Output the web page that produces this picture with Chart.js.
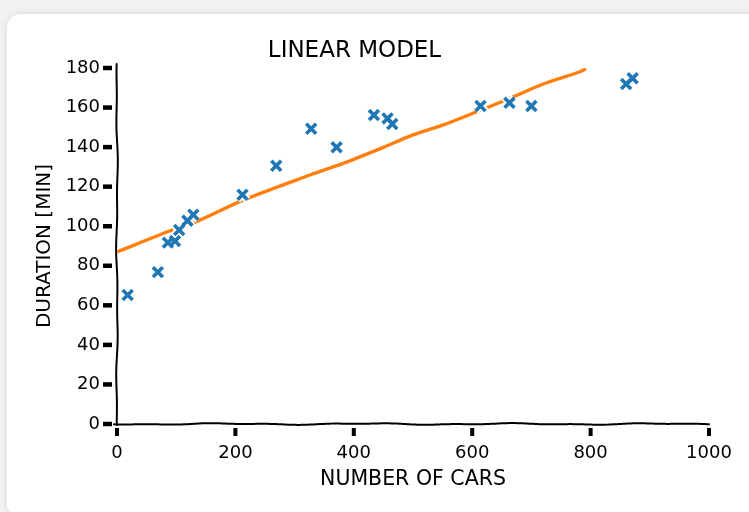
<!DOCTYPE html>
<html>
<head>
<meta charset="utf-8">
<script src="https://cdn.jsdelivr.net/npm/chart.js@4/dist/chart.umd.min.js"></script>
<style>
  html, body { margin: 0; padding: 0; }
  body { width: 749px; height: 512px; overflow: hidden; background: #f1f1f1; position: relative; }
  #card { position: absolute; left: 7px; top: 14px; width: 780px; height: 504px; background: #fff;
          border-radius: 14px; box-shadow: 0 0 7px rgba(0,0,0,0.10); }
  #c { position: absolute; left: 0; top: 0; }
</style>
</head>
<body>
<div id="card"></div>
<canvas id="c" width="749" height="512"></canvas>
<script>
// ---- data ----
const carsX = [18, 69, 86, 98, 105, 119, 129, 212, 269, 328, 371, 434, 457, 465, 614, 663, 700, 860, 871];
const durationY = [65.2, 76.8, 91.7, 92.5, 98.1, 102.8, 105.8, 115.9, 130.6, 149.3, 139.9, 156.2, 154.5, 151.7, 160.8, 162.4, 160.8, 171.9, 174.8];
const modelX = [0, 5, 90, 140, 213, 326, 382, 450, 495, 551, 608, 664, 720, 782, 792];
const modelY = [87.0, 87.6, 97.7, 103.1, 113.2, 125.9, 131.8, 139.9, 145.6, 151.2, 157.9, 164.7, 171.9, 178.1, 179.6];
const xTicks = [0, 200, 400, 600, 800, 1000];
const yTicks = [0, 20, 40, 60, 80, 100, 120, 140, 160, 180];
const titleText = 'LINEAR MODEL';
const xTitle = 'NUMBER OF CARS';
const yTitle = 'DURATION [MIN]';

const FONT = "'DejaVu Sans', sans-serif";
const scatterPts = carsX.map((v, i) => ({ x: v, y: durationY[i] }));
const modelPts = modelX.map((v, i) => ({ x: v, y: modelY[i] }));

function wavy(ctx, x1, y1, x2, y2, amp) {
  const len = Math.hypot(x2 - x1, y2 - y1);
  const nx = -(y2 - y1) / len, ny = (x2 - x1) / len;
  ctx.beginPath();
  const n = Math.ceil(len / 2);
  for (let i = 0; i <= n; i++) {
    const t = i / n, d = t * len;
    const w = amp * (0.6 * Math.sin(d / 23) + 0.4 * Math.sin(d / 9.7 + 1.3));
    const px = x1 + (x2 - x1) * t + nx * w, py = y1 + (y2 - y1) * t + ny * w;
    if (i === 0) ctx.moveTo(px, py); else ctx.lineTo(px, py);
  }
  ctx.stroke();
}

const xkcdAxes = {
  id: 'xkcdAxes',
  beforeDatasetsDraw(chart) {
    const { ctx, chartArea: a, scales: { x, y } } = chart;
    ctx.save();
    ctx.strokeStyle = '#000';
    ctx.lineCap = 'round';
    ctx.lineWidth = 2;
    wavy(ctx, a.left, a.top - 4, a.left, a.bottom + 1, 0.9);
    wavy(ctx, a.left - 3, a.bottom, a.right, a.bottom, 0.9);
    ctx.lineCap = 'butt';
    ctx.lineWidth = 4.5;
    y.ticks.forEach(t => {
      const py = y.getPixelForValue(t.value);
      ctx.beginPath(); ctx.moveTo(a.left - 14, py); ctx.lineTo(a.left - 5, py); ctx.stroke();
    });
    ctx.lineWidth = 4;
    x.ticks.forEach(t => {
      const px = x.getPixelForValue(t.value);
      ctx.beginPath(); ctx.moveTo(px, a.bottom + 4); ctx.lineTo(px, a.bottom + 12); ctx.stroke();
    });
    ctx.restore();
  }
};

new Chart(document.getElementById('c'), {
  type: 'scatter',
  data: {
    datasets: [
      { label: 'model halo', type: 'line', data: modelPts, borderColor: '#ffffff', borderWidth: 7,
        pointRadius: 0, tension: 0.3, fill: false, order: 4 },
      { label: 'model', type: 'line', data: modelPts, borderColor: '#ff7f0e', borderWidth: 3.4,
        pointRadius: 0, tension: 0.3, fill: false, order: 3 },
      { label: 'halo', data: scatterPts, pointStyle: 'crossRot', pointRadius: 7,
        pointBorderWidth: 7.5, borderColor: '#ffffff', backgroundColor: '#ffffff', order: 2 },
      { label: 'data', data: scatterPts, pointStyle: 'crossRot', pointRadius: 7,
        pointBorderWidth: 3.6, borderColor: '#1f77b4', backgroundColor: '#1f77b4', order: 1 }
    ]
  },
  options: {
    responsive: false,
    animation: false,
    layout: { padding: { left: 0, right: 40, top: 0, bottom: 0 } },
    plugins: {
      legend: { display: false },
      tooltip: { enabled: false },
      title: { display: true, text: titleText, color: '#000',
               font: { family: FONT, size: 23, weight: 'normal', lineHeight: 1.2 },
               padding: { top: 37.7, bottom: 2.7 } }
    },
    scales: {
      x: {
        type: 'linear', min: 0, max: 1000,
        afterBuildTicks: s => { s.ticks = xTicks.map(v => ({ value: v })); },
        afterFit: s => { s.height = 88; s.paddingRight = 0; s.paddingLeft = 0; },
        grid: { display: false, drawTicks: false },
        border: { display: false },
        ticks: { color: '#000', padding: 19, maxRotation: 0, callback: v => String(v),
                 font: { family: FONT, size: 18 } },
        title: { display: true, text: xTitle, color: '#000', padding: { top: 0, bottom: 19.7 },
                 font: { family: FONT, size: 20.5, lineHeight: 1.2 } }
      },
      y: {
        type: 'linear', min: 0, max: 180,
        afterBuildTicks: s => { s.ticks = yTicks.map(v => ({ value: v })); },
        afterFit: s => { s.width = 117; },
        grid: { display: false, drawTicks: false },
        border: { display: false },
        ticks: { color: '#000', padding: 17, callback: v => String(v), font: { family: FONT, size: 18 } },
        title: { display: true, text: yTitle, color: '#000', padding: { top: 33, bottom: 0 },
                 font: { family: FONT, size: 20, lineHeight: 1.2 } }
      }
    }
  },
  plugins: [xkcdAxes]
});
</script>
</body>
</html>
